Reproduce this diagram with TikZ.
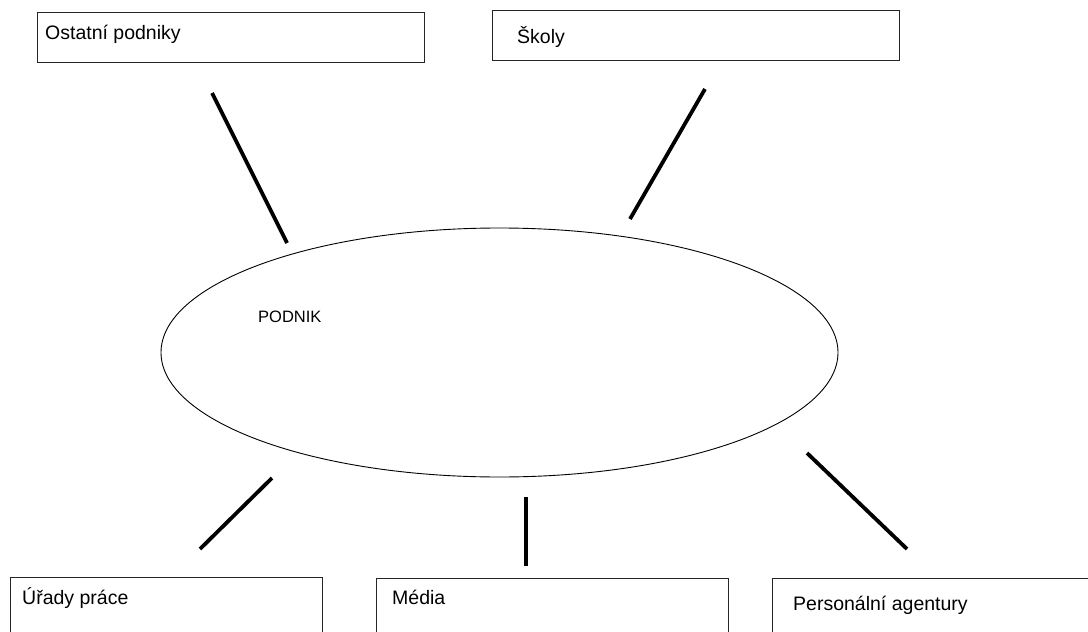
\documentclass[tikz,border=0pt]{standalone}
\usepackage{fontspec}
\setmainfont{Liberation Sans}
\usetikzlibrary{shapes.geometric}

\def\boxheight{50pt}

\begin{document}
\begin{tikzpicture}[x=1pt,y=-1pt]
        \tikzstyle{partner}=[draw=black!85,line width=1.2pt,rectangle,anchor=north west,minimum height=\boxheight,inner sep=0pt]
        \tikzstyle{bottom partner}=[partner,minimum height=80pt]
        \tikzstyle{caption}=[anchor=base west,inner sep=0pt,font=\fontsize{19.5}{23}\selectfont]
        \tikzstyle{spoke}=[line width=3.8pt,black]

        \useasboundingbox (0,0) rectangle (1088,632);
        \clip (0,0) rectangle (1088,632);

        % Draw the company in the middle
        \node[ellipse,draw,line width=0.9pt,minimum width=677pt,minimum height=249pt,inner sep=0pt] (podnik) at (499.5,352.5) {};
        \node[anchor=base west,inner sep=0pt,font=\fontsize{16.5}{19}\selectfont] (podnik-text) at (258,322) {PODNIK};

        % Draw the partner boxes
        \node[partner,minimum width=387pt] (ostatni) at (37,12) {};
        \node[partner,minimum width=407pt] (skoly) at (492,10) {};
        \node[bottom partner,minimum width=312pt] (urady) at (10,577) {};
        \node[bottom partner,minimum width=352pt] (media) at (376,578) {};
        \node[bottom partner,minimum width=330pt] (agentury) at (772,578) {};

        \node[caption] (ostatni-text) at (45,39) {Ostatní podniky};
        \node[caption] (skoly-text) at (517,43) {Školy};
        \node[caption] (urady-text) at (22,604) {Úřady práce};
        \node[caption] (media-text) at (392,604) {Média};
        \node[caption] (agentury-text) at (793,610) {Personální agentury};

        % End points of the spokes
        \coordinate (s1a) at (212,93);  \coordinate (s1b) at (287,243);
        \coordinate (s2a) at (705,89);  \coordinate (s2b) at (630,219);
        \coordinate (s3a) at (272,478); \coordinate (s3b) at (200,549);
        \coordinate (s4a) at (526,497); \coordinate (s4b) at (526,566);
        \coordinate (s5a) at (807,453); \coordinate (s5b) at (907,549);

        % Draw the spokes
        \foreach \n in {1,...,5}
            \draw[spoke] (s\n a) -- (s\n b);
    \end{tikzpicture}
\end{document}
